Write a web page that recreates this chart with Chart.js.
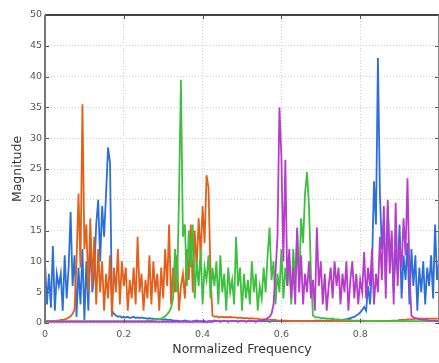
<!DOCTYPE html>
<html><head><meta charset="utf-8">
<script src="https://cdn.jsdelivr.net/npm/chart.js@4.4.0/dist/chart.umd.min.js"></script>
<style>html,body{margin:0;padding:0;background:#fff;overflow:hidden;}</style>
</head><body>
<canvas id="c" width="439" height="363"></canvas>
<script>
// Normalized frequency grid: 0 .. 1 in steps of 0.005 (201 points)
const frequency = Array.from({length: 201}, (_, i) => +(i * 0.005).toFixed(3));
const xTickLabels = ['0', '0.2', '0.4', '0.6', '0.8'];
const yTickLabels = ['0','5','10','15','20','25','30','35','40','45','50'];

const blueMag = [
 10, 3, 8, 2.5, 12.5, 2, 8, 6, 8, 2,
 11, 4, 9, 18, 6, 11, 1, 9, 3, 12,
 0.5, 10, 2, 14, 5, 8, 16, 20, 10, 19,
 14, 21, 28.5, 26, 2, 1.5, 1.2, 1.0, 1.1, 0.9,
 1.0, 0.9, 1.0, 0.8, 0.9, 1.0, 0.8, 0.9, 0.8, 0.9,
 0.8, 0.8, 0.7, 0.8, 0.7, 0.7, 0.6, 0.7, 0.6, 0.6,
 0.5, 0.6, 0.5, 0.5, 0.5, 0.4, 0.4, 0.4, 0.3, 0.3,
 0.3, 0.4, 0.3, 0.3, 0.2, 0.3, 0.3, 0.4, 0.3, 0.3,
 0.3, 0.3, 0.2, 0.3, 0.3, 0.3, 0.4, 0.3, 0.3, 0.2,
 0.3, 0.3, 0.3, 0.2, 0.3, 0.3, 0.3, 0.3, 0.2, 0.3,
 0.3, 0.3, 0.2, 0.3, 0.3, 0.3, 0.3, 0.2, 0.3, 0.3,
 0.3, 0.3, 0.3, 0.3, 0.2, 0.3, 0.3, 0.3, 0.3, 0.3,
 0.3, 0.3, 0.3, 0.3, 0.3, 0.3, 0.3, 0.3, 0.3, 0.3,
 0.3, 0.3, 0.3, 0.3, 0.3, 0.3, 0.3, 0.4, 0.4, 0.4,
 0.4, 0.4, 0.4, 0.4, 0.4, 0.4, 0.5, 0.5, 0.5, 0.5,
 0.5, 0.5, 0.6, 0.6, 0.7, 0.8, 0.9, 1.0, 1.2, 1.4,
 1.7, 2.1, 2.6, 2, 6, 3, 9, 23, 16, 43,
 21, 12, 17, 6, 19, 10, 14, 5, 12, 8,
 16, 4, 11, 7, 13, 3, 12, 6, 11, 2,
 9, 5, 10, 3, 9, 6, 11, 4, 16, 7,
 10
];

const orangeMag = [
 0.3, 0.3, 0.3, 0.3, 0.3, 0.3, 0.4, 0.4, 0.5, 0.5,
 0.6, 0.7, 0.9, 1.1, 1.5, 2.2, 10, 21, 9, 35.5,
 12, 16, 5, 17, 6, 14, 3, 12, 5, 10,
 2, 8, 4, 11, 1, 9, 5, 12, 3, 10,
 6, 9, 2, 7, 4, 9, 3, 14, 5, 8,
 2, 7, 4, 11, 3, 10, 5, 8, 2, 9,
 4, 12, 6, 16, 3, 9, 5, 11, 2, 6,
 8, 4, 12, 7, 16, 5, 15, 9, 17, 11,
 19, 13, 24, 22, 8, 1.2, 1.0, 1.1, 0.9, 1.0,
 1.0, 0.9, 1.0, 0.9, 1.0, 0.9, 0.9, 0.9, 0.8, 0.9,
 0.8, 0.8, 0.8, 0.8, 0.7, 0.8, 0.7, 0.7, 0.7, 0.6,
 0.6, 0.6, 0.6, 0.5, 0.5, 0.5, 0.5, 0.5, 0.4, 0.4,
 0.4, 0.4, 0.4, 0.4, 0.3, 0.3, 0.3, 0.3, 0.3, 0.3,
 0.3, 0.3, 0.3, 0.3, 0.3, 0.3, 0.3, 0.3, 0.3, 0.3,
 0.3, 0.3, 0.3, 0.3, 0.3, 0.3, 0.3, 0.3, 0.3, 0.3,
 0.3, 0.3, 0.3, 0.3, 0.3, 0.3, 0.3, 0.3, 0.3, 0.3,
 0.3, 0.3, 0.3, 0.3, 0.3, 0.3, 0.3, 0.3, 0.3, 0.3,
 0.3, 0.3, 0.3, 0.3, 0.3, 0.3, 0.4, 0.4, 0.4, 0.4,
 0.5, 0.5, 0.5, 0.5, 0.6, 0.6, 0.6, 0.6, 0.7, 0.7,
 0.7, 0.7, 0.7, 0.7, 0.7, 0.7, 0.7, 0.7, 0.7, 0.7,
 0.7
];

const greenMag = [
 0.3, 0.3, 0.3, 0.3, 0.3, 0.3, 0.3, 0.3, 0.3, 0.3,
 0.3, 0.3, 0.3, 0.3, 0.3, 0.3, 0.3, 0.3, 0.3, 0.3,
 0.3, 0.3, 0.3, 0.3, 0.3, 0.3, 0.3, 0.3, 0.3, 0.3,
 0.3, 0.3, 0.3, 0.3, 0.3, 0.3, 0.3, 0.3, 0.3, 0.3,
 0.3, 0.3, 0.3, 0.3, 0.3, 0.3, 0.3, 0.3, 0.3, 0.3,
 0.3, 0.3, 0.4, 0.4, 0.4, 0.5, 0.5, 0.6, 0.6, 0.7,
 0.9, 1.1, 1.4, 1.8, 2.5, 4, 12, 5, 20, 39.5,
 14, 16, 6, 15, 9, 16, 4, 10, 6, 12,
 3, 9, 7, 11, 4, 9, 6, 10, 3, 11,
 5, 8, 2, 9, 5, 7, 3, 14, 6, 9,
 2, 8, 4, 7, 3, 10, 5, 8, 2, 6,
 4, 9, 5, 11, 15.5, 7, 10, 3, 8, 5,
 12, 4, 9, 6, 10, 3, 12, 7, 15, 6,
 17, 13, 21, 24.5, 19, 8, 1.2, 1.0, 0.9, 0.9,
 0.8, 0.8, 0.8, 0.7, 0.7, 0.7, 0.7, 0.6, 0.6, 0.6,
 0.5, 0.5, 0.5, 0.5, 0.5, 0.5, 0.4, 0.4, 0.4, 0.4,
 0.4, 0.4, 0.4, 0.3, 0.3, 0.3, 0.3, 0.3, 0.3, 0.3,
 0.3, 0.3, 0.3, 0.3, 0.3, 0.3, 0.3, 0.3, 0.3, 0.3,
 0.3, 0.3, 0.3, 0.3, 0.3, 0.3, 0.3, 0.3, 0.3, 0.3,
 0.3, 0.3, 0.3, 0.3, 0.3, 0.3, 0.3, 0.3, 0.3, 0.3,
 0.3
];

const purpleMag = [
 0.2, 0.2, 0.2, 0.2, 0.2, 0.2, 0.2, 0.2, 0.2, 0.2,
 0.2, 0.2, 0.2, 0.2, 0.2, 0.2, 0.2, 0.2, 0.2, 0.2,
 0.2, 0.2, 0.2, 0.2, 0.2, 0.2, 0.2, 0.2, 0.2, 0.2,
 0.2, 0.2, 0.2, 0.2, 0.2, 0.2, 0.2, 0.2, 0.2, 0.2,
 0.2, 0.2, 0.2, 0.2, 0.2, 0.2, 0.2, 0.2, 0.2, 0.2,
 0.2, 0.2, 0.2, 0.2, 0.2, 0.2, 0.2, 0.2, 0.2, 0.2,
 0.2, 0.2, 0.2, 0.2, 0.2, 0.2, 0.2, 0.2, 0.2, 0.2,
 0.2, 0.2, 0.2, 0.2, 0.2, 0.2, 0.2, 0.2, 0.2, 0.2,
 0.2, 0.2, 0.2, 0.2, 0.2, 0.2, 0.3, 0.3, 0.3, 0.3,
 0.3, 0.3, 0.3, 0.3, 0.3, 0.3, 0.3, 0.3, 0.3, 0.3,
 0.3, 0.3, 0.3, 0.3, 0.3, 0.3, 0.3, 0.3, 0.3, 0.3,
 0.4, 0.5, 0.6, 0.8, 1.0, 1.5, 3, 8, 14, 35,
 27, 10, 26.5, 6, 12, 4, 9, 3, 15.5, 5,
 11, 3, 8, 5, 10, 4, 7, 2, 15.5, 6,
 10, 3, 8, 2, 6, 9, 4, 10, 6, 9,
 3, 8, 5, 10, 2, 7, 10, 4, 8, 3,
 7, 5, 11.5, 4, 9, 6, 12, 3, 8, 5,
 14, 7, 19, 4, 20, 8, 15, 3, 19.5, 6,
 13, 9, 17, 11, 23.5, 8, 1.2, 0.9, 0.8, 0.7,
 0.6, 0.6, 0.5, 0.5, 0.5, 0.4, 0.4, 0.4, 0.4, 0.3,
 0.3
];

const seriesNames = ['Band 1', 'Band 2', 'Band 3', 'Band 4'];
const seriesColors = ['#2c6fd6', '#e2601a', '#3fbf3f', '#b83ccc'];
const seriesValues = [blueMag, orangeMag, greenMag, purpleMag];
const drawOrder = [4, 3, 2, 1];

const datasets = seriesValues.map((vals, k) => ({
  label: seriesNames[k],
  data: frequency.map((f, i) => ({x: f, y: vals[i]})),
  borderColor: seriesColors[k],
  borderWidth: 1.8,
  pointRadius: 0,
  tension: 0,
  order: drawOrder[k]
}));

const framePlugin = {
  id: 'frame',
  afterDatasetsDraw(chart) {
    const {ctx, chartArea: a, scales: {x, y}} = chart;
    ctx.save();
    ctx.strokeStyle = '#555';
    ctx.lineWidth = 1;
    y.ticks.forEach(t => {
      const py = Math.round(y.getPixelForValue(t.value)) + 0.5;
      ctx.beginPath();
      ctx.moveTo(a.left, py); ctx.lineTo(a.left + 4, py);
      ctx.moveTo(a.right, py); ctx.lineTo(a.right - 4, py);
      ctx.stroke();
    });
    x.ticks.forEach(t => {
      const px = Math.round(x.getPixelForValue(t.value)) + 0.5;
      ctx.beginPath();
      ctx.moveTo(px, a.top); ctx.lineTo(px, a.top + 4);
      ctx.moveTo(px, a.bottom); ctx.lineTo(px, a.bottom - 4);
      ctx.stroke();
    });
    ctx.lineWidth = 2;
    ctx.strokeStyle = '#444';
    ctx.beginPath(); ctx.moveTo(a.left, a.top); ctx.lineTo(a.right, a.top); ctx.stroke();
    ctx.strokeStyle = '#777';
    ctx.beginPath(); ctx.moveTo(a.left, a.top); ctx.lineTo(a.left, a.bottom + 1); ctx.stroke();
    ctx.lineWidth = 1;
    ctx.strokeStyle = '#888';
    ctx.beginPath(); ctx.moveTo(a.right - 0.5, a.top); ctx.lineTo(a.right - 0.5, a.bottom); ctx.stroke();
    ctx.restore();
  }
};

const tickFont = {family: "'DejaVu Sans', sans-serif", size: 9.5};
const titleFont = {family: "'DejaVu Sans', sans-serif", size: 12.5};

new Chart(document.getElementById('c'), {
  type: 'line',
  data: {datasets},
  options: {
    responsive: false,
    devicePixelRatio: 1,
    animation: false,
    events: [],
    layout: {padding: {top: 15, right: -2, bottom: 0, left: 0}},
    plugins: {legend: {display: false}, tooltip: {enabled: false}},
    scales: {
      x: {
        type: 'linear', min: 0, max: 1,
        afterFit: s => { s.height = 40; s.paddingRight = 0; s.paddingLeft = 0; },
        border: {display: false, dash: [1, 2]},
        grid: {color: '#cfcfcf', drawTicks: false, lineWidth: 1},
        ticks: {
          stepSize: 0.2, padding: 6, color: '#555', font: tickFont, maxRotation: 0,
          callback: v => { const k = Math.round(v * 5); return k < xTickLabels.length ? xTickLabels[k] : ''; }
        },
        title: {display: true, text: 'Normalized Frequency', color: '#333', font: titleFont, padding: {top: 0, bottom: 6}}
      },
      y: {
        min: 0, max: 50,
        afterFit: s => { s.width = 45; },
        border: {display: false, dash: [1, 2]},
        grid: {color: '#cfcfcf', drawTicks: false, lineWidth: 1},
        ticks: {
          stepSize: 5, padding: 3, color: '#555', font: tickFont, autoSkip: false,
          callback: v => yTickLabels[Math.round(v / 5)]
        },
        title: {display: true, text: 'Magnitude', color: '#333', font: titleFont, padding: {top: 10, bottom: 0}}
      }
    }
  },
  plugins: [framePlugin]
});
</script>
</body></html>
